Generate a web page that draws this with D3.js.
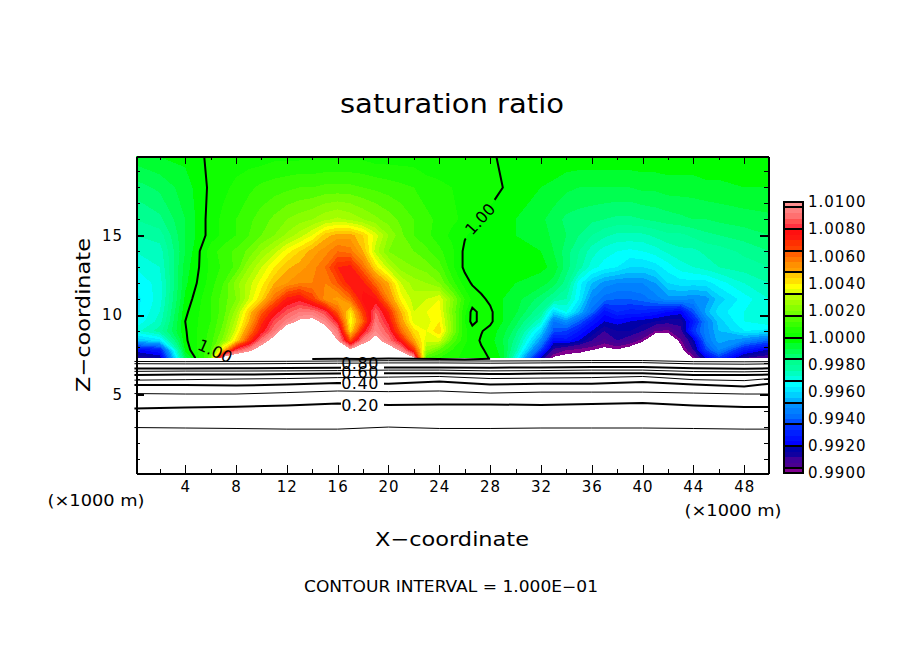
<!DOCTYPE html>
<html>
<head>
    <meta charset="UTF-8">
    <title>saturation ratio</title>
    <style>
        body { margin: 0; background: #fff; }
        text { font-family: "DejaVu Sans", sans-serif; fill: #000; }
        .axis path, .axis line { stroke: #000; shape-rendering: crispEdges; }
        .axis path { stroke-width: 2px; }
        .axis text { font-size: 15px; letter-spacing: 1px; }
        .band { shape-rendering: crispEdges; stroke: none; }
        .level { fill: none; stroke: #000; }
    </style>
</head>
<body>
<svg width="904" height="654"></svg>
<script src="https://cdn.jsdelivr.net/npm/d3@7"></script>
<script>

    // grid columns (x, km) and rows (z, km) of the field above ground
    var colX = [0, 2, 4, 6,
        7, 8, 9, 10, 11, 12,
        13, 14, 15, 16, 17, 18,
        19, 20, 21, 22, 23, 24,
        25, 26, 26.6, 27.3, 28, 29, 30,
        32, 33, 34, 35, 36, 37,
        38, 39, 40, 41, 42, 43,
        44, 45, 46, 48, 50];
    var rowZ = [19.9, 18, 16, 15, 14, 13, 12, 11, 10.2, 9.6, 9, 8.4, 7.8, 7.3];

    // saturation ratio, (ratio - 1) in units of 1e-4
    var ratioRows = [
        [-6, -4, -3, 1, 1, 2, 2, 2, 3, 3, 3, 3, 3, 3, 3, 3, 2, 2, 2, 2, 1, 1, 2, 2, 1, 1, 0.5, -0.5, -1, -1, -1, -1, -1, -1, -1, -1, -1, -1, -1, -1, -1, -1, -1, -1, -1, -1],
        [-14, -11, -6, 1, 3, 5, 7, 9, 10, 11, 12, 12, 13, 13, 13, 12, 11, 10, 9, 8, 6, 5, 4, 3, 3, 2, 1.5, 0, -1.5, -4, -5, -7, -8, -8, -8, -8, -8, -7, -7, -6, -6, -6, -5, -5, -4, -4],
        [-20, -17, -8, 2, 5, 8, 11, 14, 17, 20, 22, 24, 27, 29, 27, 24, 21, 18, 15, 12, 9, 7, 5, 3, 2, 0.5, -1, -2, -4, -7, -10, -13, -14, -15, -16, -17, -17, -16, -15, -14, -13, -12, -12, -11, -10, -9],
        [-24, -22, -8, 2, 5, 8, 12, 16, 20, 25, 30, 36, 46, 50, 50, 44, 34, 24, 17, 12, 9, 6, 3, 0.5, -1, -2, -3, -3, -4, -6, -9, -12, -16, -20, -23, -25, -25, -25, -23, -21, -21, -19, -17, -16, -14, -12],
        [-28, -26, -8, 6, 10, 13, 17, 24, 30, 38, 44, 50, 54, 60, 58, 48, 30, 20, 18, 16, 13, 9, 5, -1, -2, -3, -4, -2, -2, -4, -8, -14, -20, -26, -30, -32, -33, -32, -30, -27, -25, -25, -23, -22, -19, -16],
        [-32, -28, -6, 5, 9, 13, 24, 32, 40, 47, 50, 54, 60, 72, 74, 60, 42, 30, 22, 20, 18, 14, 5, -1, -2, -3, -4, -4, -3, -3, -5, -14, -22, -30, -34, -36, -40, -40, -38, -34, -30, -28, -26, -24, -22, -20],
        [-36, -30, -5, 6, 12, 22, 30, 38, 48, 52, 56, 56, 56, 64, 76, 74, 60, 48, 32, 26, 24, 20, 10, 2, -0.5, -2, -3, -3, -4, -6, -10, -18, -34, -44, -50, -52, -52, -52, -48, -40, -38, -38, -38, -34, -28, -24],
        [-38, -30, -3, 8, 14, 20, 32, 44, 60, 74, 78, 68, 54, 50, 60, 78, 76, 56, 38, 30, 32, 36, 22, 8, 3, 1, -1, -4, -6, -14, -20, -24, -36, -52, -58, -60, -60, -58, -54, -50, -50, -52, -50, -42, -34, -28],
        [-38, -28, -1, 8, 14, 26, 44, 62, 76, 86, 92, 92, 84, 62, 40, 68, 88, 72, 48, 32, 36, 38, 20, 5, -1.5, 1.5, 1, -4, -7, -20, -40, -32, -44, -58, -74, -68, -70, -70, -72, -76, -78, -62, -46, -38, -32, -28],
        [-36, -26, 0, 8, 16, 30, 48, 70, 85, 94, 102, 104, 96, 78, 36, 62, 92, 78, 52, 34, 34, 40, 22, 4, -1.5, 1.5, 1, -4, -10, -28, -56, -50, -60, -72, -80, -78, -80, -82, -84, -86, -86, -72, -54, -42, -32, -28],
        [-30, -22, -0.5, 9, 18, 34, 56, 76, 92, 110, 120, 120, 106, 92, 42, 76, 96, 85, 60, 42, 36, 44, 22, 5, 2, 0.3, -1.5, -6, -14, -40, -62, -64, -72, -80, -88, -84, -84, -88, -96, -97, -90, -66, -54, -44, -36, -38],
        [-44, -38, -1, 10, 22, 42, 68, 92, 106, 116, 125, 125, 115, 100, 65, 94, 105, 92, 75, 50, 33, 34, 15, 5, 2, -0.5, -2, -8, -18, -50, -76, -74, -80, -88, -93, -88, -92, -98, -112, -112, -97, -82, -56, -46, -52, -60],
        [-78, -72, -3, 12, 46, 85, 96, 108, 125, 130, 130, 130, 130, 112, 103, 112, 120, 110, 97, 70, 25, 16, 8, 3, 1, 0.5, -1, -6, -22, -64, -90, -96, -98, -100, -103, -101, -105, -114, -125, -125, -104, -88, -64, -52, -72, -82],
        [-88, -84, -10, 15, 110, 116, 120, 125, 135, 140, 140, 140, 140, 125, 118, 125, 130, 125, 115, 102, 12, 8, 5, 3, 2, 1, -0.2, -5, -30, -82, -102, -104, -104, -106, -108, -108, -110, -120, -130, -130, -112, -99, -80, -66, -88, -92]
    ];

    // legend bands, 0.0004 wide, from 0.9900 up to 1.0100
    var bandColors = ["#80008f",
        "#4b0090", "#400098", "#1000a0", "#0000a8",
        "#0000ff", "#0010ff", "#0020ff", "#0030ff",
        "#0050ff", "#0070ff", "#0080ff", "#0090ff",
        "#00b0ff", "#00d0ff", "#00e8ff", "#00ffff",
        "#00ffe0", "#00ffc0", "#00ffa0", "#00ff90",
        "#00ff70", "#00ff50", "#00ff30", "#00ff00",
        "#10ff00", "#20ff00", "#38ff00", "#50ff00",
        "#70ff00", "#88ff00", "#a0ff00", "#b8ff00",
        "#e0ff00", "#ffff00", "#ffe000", "#ffc800",
        "#ffa000", "#ff9000", "#ff7800", "#ff6000",
        "#ff4000", "#ff3000", "#ff1810", "#ff1010",
        "#ff3040", "#ff5050", "#ff7070", "#ff8080",
        "#ff9090"];
    var legendTicks = [0.99, 0.992, 0.994, 0.996, 0.998, 1, 1.002, 1.004, 1.006, 1.008, 1.01];
    var legendSeps = [0.9904, 0.992, 0.9936, 0.9952, 0.9968, 0.9984, 1, 1.0016, 1.0032, 1.0048, 1.0064, 1.008, 1.0096];

    // contour lines below the ground level, z (km) at lineX stations
    var lineX = [0, 4, 8, 12, 16, 20, 24, 28, 32, 36, 40, 44, 48, 50];
    var level10 = [2.95, 2.92, 2.89, 2.85, 2.85, 2.98, 2.89, 2.89, 2.92, 2.92, 2.92, 2.89, 2.85, 2.85];
    var level20 = [4.14, 4.2, 4.26, 4.33, 4.45, 4.36, 4.39, 4.4, 4.36, 4.42, 4.48, 4.33, 4.23, 4.23];
    var level30 = [5.08, 5.05, 5.05, 5.14, 5.24, 5.2, 5.24, 5.11, 5.17, 5.17, 5.17, 5.11, 5.05, 5.05];
    var level40 = [5.61, 5.61, 5.58, 5.64, 5.74, 5.7, 5.83, 5.64, 5.7, 5.7, 5.8, 5.64, 5.52, 5.7];
    var level50 = [5.92, 5.95, 5.99, 6.02, 6.08, 6.11, 6.15, 6.02, 6.05, 6.08, 6.15, 5.95, 5.89, 6.02];
    var level60 = [6.24, 6.27, 6.27, 6.3, 6.33, 6.36, 6.36, 6.3, 6.33, 6.36, 6.36, 6.24, 6.24, 6.27];
    var level70 = [6.47, 6.49, 6.49, 6.5, 6.52, 6.55, 6.55, 6.5, 6.52, 6.55, 6.55, 6.46, 6.44, 6.47];
    var level80 = [6.65, 6.65, 6.66, 6.68, 6.7, 6.72, 6.72, 6.7, 6.72, 6.74, 6.74, 6.66, 6.64, 6.66];
    var level90 = [6.95, 6.94, 6.94, 6.96, 6.98, 7, 7, 6.98, 7, 7.02, 7.02, 6.94, 6.92, 6.94];
    var level100 = [7.09, 7.08, 7.09, 7.1, 7.12, 7.14, 7.13, 7.12, 7.13, 7.15, 7.15, 7.08, 7.07, 7.08];

    var groundX = [14, 16, 18, 20, 22, 24, 26, 28];
    var groundZ = [7.24, 7.26, 7.25, 7.27, 7.26, 7.24, 7.22, 7.26];

    var lowerLevels = [
        {values: level10, thick: false}, {values: level20, thick: true},
        {values: level30, thick: false}, {values: level40, thick: true},
        {values: level50, thick: false}, {values: level60, thick: true},
        {values: level70, thick: false}, {values: level80, thick: true},
        {values: level90, thick: false}, {values: level100, thick: false}
    ];
    var lowerLabels = [[0.2, 405], [0.4, 383], [0.6, 372], [0.8, 363]];

    var svg = d3.select("svg");

    var left = 136, right = 768, top_ = 156, bottom = 473;

    var x = d3.scaleLinear().domain([0.125, 49.875]).range([left, right]);
    var y = d3.scaleLinear().domain([0.1, 19.97]).range([bottom, top_]);

    var defs = svg.append("defs");
    defs.append("clipPath").attr("id", "field")
        .append("rect")
        .attr("x", left).attr("y", top_)
        .attr("width", right - left).attr("height", Math.round(y(7.3)) - top_);

    // labels sit in gaps of the lines
    var labelGaps = defs.append("mask").attr("id", "gaps")
        .attr("maskUnits", "userSpaceOnUse")
        .attr("x", 0).attr("y", 0).attr("width", 904).attr("height", 654);
    labelGaps.append("rect").attr("width", 904).attr("height", 654).attr("fill", "#fff");
    labelGaps.append("rect").attr("x", 341).attr("y", 355).attr("width", 43).attr("height", 60).attr("fill", "#000");

    var oneGaps = defs.append("mask").attr("id", "oneGaps")
        .attr("maskUnits", "userSpaceOnUse")
        .attr("x", 0).attr("y", 0).attr("width", 904).attr("height", 654);
    oneGaps.append("rect").attr("width", 904).attr("height", 654).attr("fill", "#fff");
    oneGaps.append("rect").attr("x", 196).attr("y", 340).attr("width", 42).attr("height", 24).attr("fill", "#000");
    oneGaps.append("rect").attr("x", -24).attr("y", -11).attr("width", 48).attr("height", 22).attr("fill", "#000")
        .attr("transform", "translate(480,219) rotate(-48)");

    // filled contours, grid index to plot position through two piecewise scales
    var n = colX.length, m = rowZ.length;
    var colPos = d3.scaleLinear().domain(d3.range(n)).range(colX.map(function (d) { return x(d); }));
    var rowPos = d3.scaleLinear().domain(d3.range(m)).range(rowZ.map(function (d) { return y(d); }));
    var gridPath = d3.geoPath(d3.geoTransform({
        point: function (px, py) {
            this.stream.point(colPos(px - 0.5), rowPos(py - 0.5));
        }
    }));

    var ratio = d3.merge(ratioRows).map(function (d) { return 1 + d / 10000; });
    var contours = d3.contours().size([n, m]);

    var bandLow = bandColors.map(function (d, i) { return 0.99 + i * 0.0004; });

    var field = svg.append("g").attr("clip-path", "url(#field)");
    field.selectAll("path.band")
        .data(bandLow)
        .enter().append("path")
        .attr("class", "band")
        .attr("fill", function (d, i) { return bandColors[i]; })
        .attr("d", function (d) { return gridPath(contours.contour(ratio, d)); });
    field.append("path")
        .attr("class", "band")
        .attr("fill", "#fff")
        .attr("d", gridPath(contours.contour(ratio, 1.01)));

    // the 1.00 contour
    svg.append("g").attr("mask", "url(#oneGaps)")
        .append("g").attr("clip-path", "url(#field)")
        .append("path")
        .attr("class", "level")
        .attr("stroke-width", 2)
        .attr("d", gridPath(contours.contour(ratio, 1)));

    // lines under the ground level
    var line = d3.line()
        .x(function (d, i) { return x(lineX[i]); })
        .y(function (d) { return y(d); });

    var lower = svg.append("g");
    lower.selectAll("path.lower")
        .data(lowerLevels)
        .enter().append("path")
        .attr("class", "level lower")
        .attr("stroke-width", function (d) { return d.thick ? 2 : 1; })
        .attr("mask", function (d) { return d.thick ? "url(#gaps)" : null; })
        .attr("d", function (d) { return line(d.values); });

    lower.append("path")
        .attr("class", "level")
        .attr("stroke-width", 2)
        .attr("d", d3.line()
            .x(function (d, i) { return x(groundX[i]); })
            .y(function (d) { return y(d); })(groundZ));

    svg.selectAll("text.lowerLabel")
        .data(lowerLabels)
        .enter().append("text")
        .attr("class", "lowerLabel")
        .attr("x", 360)
        .attr("y", function (d) { return d[1]; })
        .attr("dy", "0.36em")
        .attr("text-anchor", "middle")
        .style("font-size", "16px")
        .style("letter-spacing", "0.5px")
        .text(function (d) { return d[0].toFixed(2); });

    svg.append("text")
        .attr("text-anchor", "middle").attr("dy", "0.36em")
        .attr("transform", "translate(215,351) rotate(24)")
        .style("font-size", "16px").text("1.00");
    svg.append("text")
        .attr("text-anchor", "middle").attr("dy", "0.36em")
        .attr("transform", "translate(480,219) rotate(-48)")
        .style("font-size", "16px").text("1.00");

    // frame and ticks
    var xMajor = d3.range(4, 49, 4), xMinor = d3.range(2, 50, 4);
    var yMajor = [5, 10, 15], yMinor = d3.range(1, 20).filter(function (d) { return d % 5 !== 0; });

    function axisGroup(axis, tx, ty) {
        return svg.append("g").attr("class", "axis")
            .attr("transform", "translate(" + tx + "," + ty + ")")
            .call(axis);
    }

    axisGroup(d3.axisBottom(x).tickValues(xMajor).tickSize(-8).tickSizeOuter(0).tickPadding(8), 0, bottom);
    axisGroup(d3.axisBottom(x).tickValues(xMinor).tickSize(-4).tickSizeOuter(0).tickFormat(""), 0, bottom);
    axisGroup(d3.axisTop(x).tickValues(xMajor).tickSize(-8).tickSizeOuter(0).tickFormat(""), 0, top_);
    axisGroup(d3.axisTop(x).tickValues(xMinor).tickSize(-4).tickSizeOuter(0).tickFormat(""), 0, top_);
    axisGroup(d3.axisLeft(y).tickValues(yMajor).tickSize(-8).tickSizeOuter(0).tickPadding(13), left, 0)
        .selectAll("line").attr("stroke-width", 2);
    axisGroup(d3.axisLeft(y).tickValues(yMinor).tickSize(-4).tickSizeOuter(0).tickFormat(""), left, 0);
    axisGroup(d3.axisRight(y).tickValues(yMajor).tickSize(-8).tickSizeOuter(0).tickFormat(""), right, 0)
        .selectAll("line").attr("stroke-width", 2);
    axisGroup(d3.axisRight(y).tickValues(yMinor).tickSize(-4).tickSizeOuter(0).tickFormat(""), right, 0);

    // legend
    var legendLeft = 784, legendRight = 803;
    var legend = d3.scaleLinear().domain([0.99, 1.01]).range([473, 202]);

    svg.selectAll("rect.legendBand")
        .data(bandLow)
        .enter().append("rect")
        .attr("class", "band legendBand")
        .attr("x", legendLeft)
        .attr("width", legendRight - legendLeft)
        .attr("y", function (d) { return legend(d + 0.0004); })
        .attr("height", function (d) { return legend(d) - legend(d + 0.0004) + 0.5; })
        .attr("fill", function (d, i) { return bandColors[i]; });

    svg.selectAll("line.sep")
        .data(legendSeps)
        .enter().append("line")
        .attr("class", "sep")
        .attr("x1", legendLeft).attr("x2", legendRight)
        .attr("y1", legend).attr("y2", legend)
        .attr("stroke", "#000").attr("stroke-width", 2)
        .style("shape-rendering", "crispEdges");

    svg.append("rect")
        .attr("x", legendLeft).attr("y", 202)
        .attr("width", legendRight - legendLeft).attr("height", 271)
        .attr("fill", "none").attr("stroke", "#000").attr("stroke-width", 2)
        .style("shape-rendering", "crispEdges");

    var legendAxis = axisGroup(d3.axisRight(legend).tickValues(legendTicks).tickSize(0).tickPadding(5)
        .tickFormat(d3.format(".4f")), legendRight, 0);
    legendAxis.select("path").remove();

    // titles
    function label(txt, px, py, size, len, anchor) {
        return svg.append("text")
            .attr("x", px).attr("y", py)
            .attr("text-anchor", anchor || "middle")
            .attr("textLength", len)
            .attr("lengthAdjust", "spacingAndGlyphs")
            .style("font-size", size + "px")
            .text(txt);
    }

    label("saturation ratio", 452, 113, 26, 224);
    label("X\u2212coordinate", 452, 546, 20, 154);
    label("CONTOUR INTERVAL = 1.000E\u221201", 451, 592, 15, 294);
    label("(\u00d71000 m)", 96, 506, 15, 97);
    label("(\u00d71000 m)", 733, 516, 15, 97);
    svg.append("text")
        .attr("transform", "translate(90,315) rotate(-90)")
        .attr("text-anchor", "middle")
        .attr("textLength", 154)
        .attr("lengthAdjust", "spacingAndGlyphs")
        .style("font-size", "20px")
        .text("Z\u2212coordinate");

</script>
</body>
</html>
